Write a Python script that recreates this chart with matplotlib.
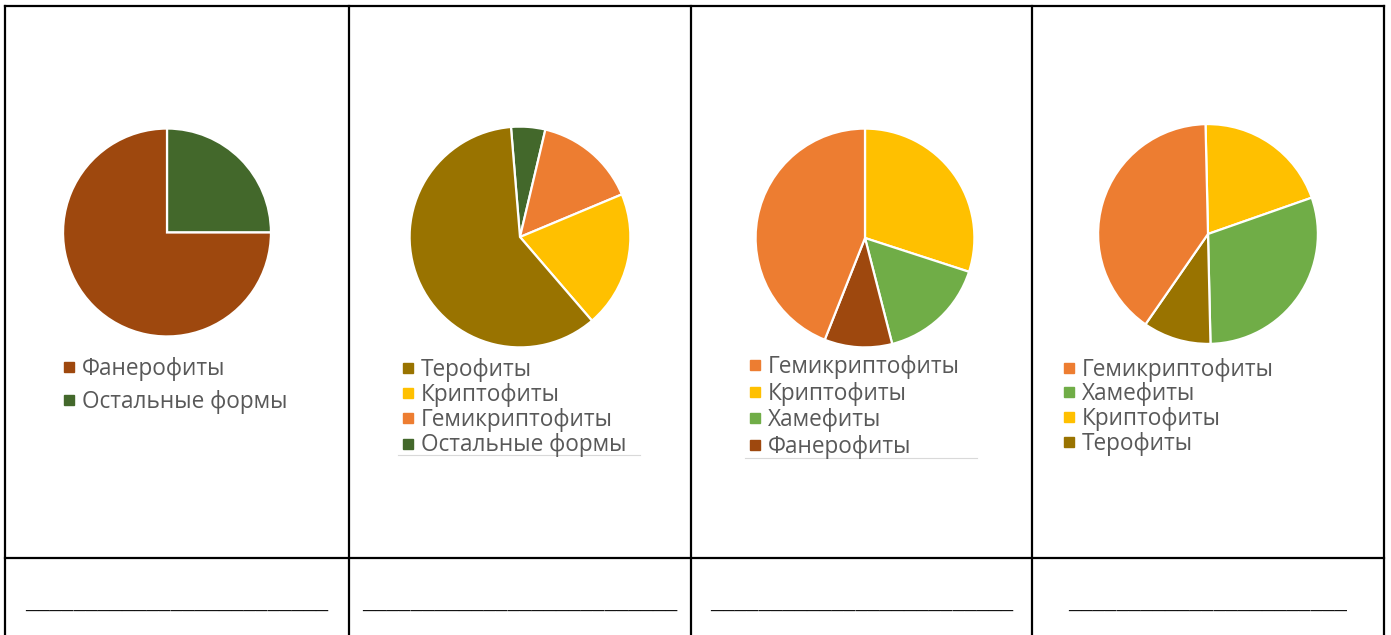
import matplotlib
matplotlib.use("Agg")
import matplotlib.pyplot as plt
from matplotlib.lines import Line2D

W, H = 1391, 635

# slices listed clockwise from 12 o'clock
pie1_labels = ["Остальные формы", "Фанерофиты"]
pie1_values = [25, 75]
pie1_legend = ["Фанерофиты", "Остальные формы"]

pie2_labels = ["Остальные формы", "Гемикриптофиты", "Криптофиты", "Терофиты"]
pie2_values = [5, 15, 20, 60]
pie2_legend = ["Терофиты", "Криптофиты", "Гемикриптофиты", "Остальные формы"]

pie3_labels = ["Криптофиты", "Хамефиты", "Фанерофиты", "Гемикриптофиты"]
pie3_values = [30, 16, 10, 44]
pie3_legend = ["Гемикриптофиты", "Криптофиты", "Хамефиты", "Фанерофиты"]

pie4_labels = ["Криптофиты", "Хамефиты", "Терофиты", "Гемикриптофиты"]
pie4_values = [20, 30, 10, 40]
pie4_legend = ["Гемикриптофиты", "Хамефиты", "Криптофиты", "Терофиты"]

blank_lines = [25, 26, 25, 23]  # underscores per answer cell

colors = {
    "Фанерофиты": "#9e480e",
    "Остальные формы": "#43682b",
    "Терофиты": "#997300",
    "Криптофиты": "#ffc000",
    "Гемикриптофиты": "#ed7d31",
    "Хамефиты": "#70ad47",
}

fig = plt.figure(figsize=(W / 100, H / 100), dpi=100)
bg = fig.add_axes([0, 0, 1, 1])
bg.set_xlim(0, W)
bg.set_ylim(H, 0)
bg.axis("off")

# table grid
col_x = [5, 349, 691, 1032, 1384]
for x in col_x:
    bg.plot([x, x], [6, H + 5], color="black", lw=1.6, solid_capstyle="projecting")
bg.plot([5, 1384], [6, 6], color="black", lw=1.6)
bg.plot([5, 1384], [558, 558], color="black", lw=1.6)

# (cx, cy, r, startangle, legend x, legend top, row step, underline)
layout = [
    (167, 232.5, 105, 90, 62, 357, 32.5, None),
    (520, 237, 111.5, 94.7, 401, 358, 24.7, (398, 640, 455)),
    (865, 238, 110.5, 90, 748, 355, 26.2, (745, 977, 458)),
    (1208, 234, 111, 91.3, 1062, 357.5, 24.3, None),
]
pies = [
    (pie1_labels, pie1_values, pie1_legend),
    (pie2_labels, pie2_values, pie2_legend),
    (pie3_labels, pie3_values, pie3_legend),
    (pie4_labels, pie4_values, pie4_legend),
]

for (labels, values, legend), (cx, cy, r, sa, lx, ly, step, uline) in zip(pies, layout):
    ax = fig.add_axes([(cx - r) / W, 1 - (cy + r) / H, 2 * r / W, 2 * r / H])
    ax.pie(values, colors=[colors[l] for l in labels], startangle=sa,
           counterclock=False, wedgeprops=dict(edgecolor="white", linewidth=1.6))
    ax.set_xlim(-1.01, 1.01)
    ax.set_ylim(-1.01, 1.01)
    ax.axis("off")

    handles = [Line2D([], [], marker="s", linestyle="none", markersize=6.5,
                      color=colors[l]) for l in legend]
    leg = fig.legend(handles, legend, loc="upper left",
                     bbox_to_anchor=(lx / W, 1 - ly / H), frameon=False,
                     handlelength=0.6, handletextpad=0.27, borderpad=0,
                     borderaxespad=0, labelspacing=(step - 23.5) / 23.5,
                     prop=dict(family="Open Sans", size=16.3))
    for t in leg.get_texts():
        t.set_color("#595959")
    if uline:
        bg.plot([uline[0], uline[1]], [uline[2], uline[2]], color="#d9d9d9", lw=0.8)

for i, n in enumerate(blank_lines):
    bg.text((col_x[i] + col_x[i + 1]) / 2, 609, "_" * n, ha="center",
            va="baseline", family="Liberation Serif", fontsize=17.3,
            fontweight="bold", color="#111111")

fig.savefig("out.png", dpi=100)
